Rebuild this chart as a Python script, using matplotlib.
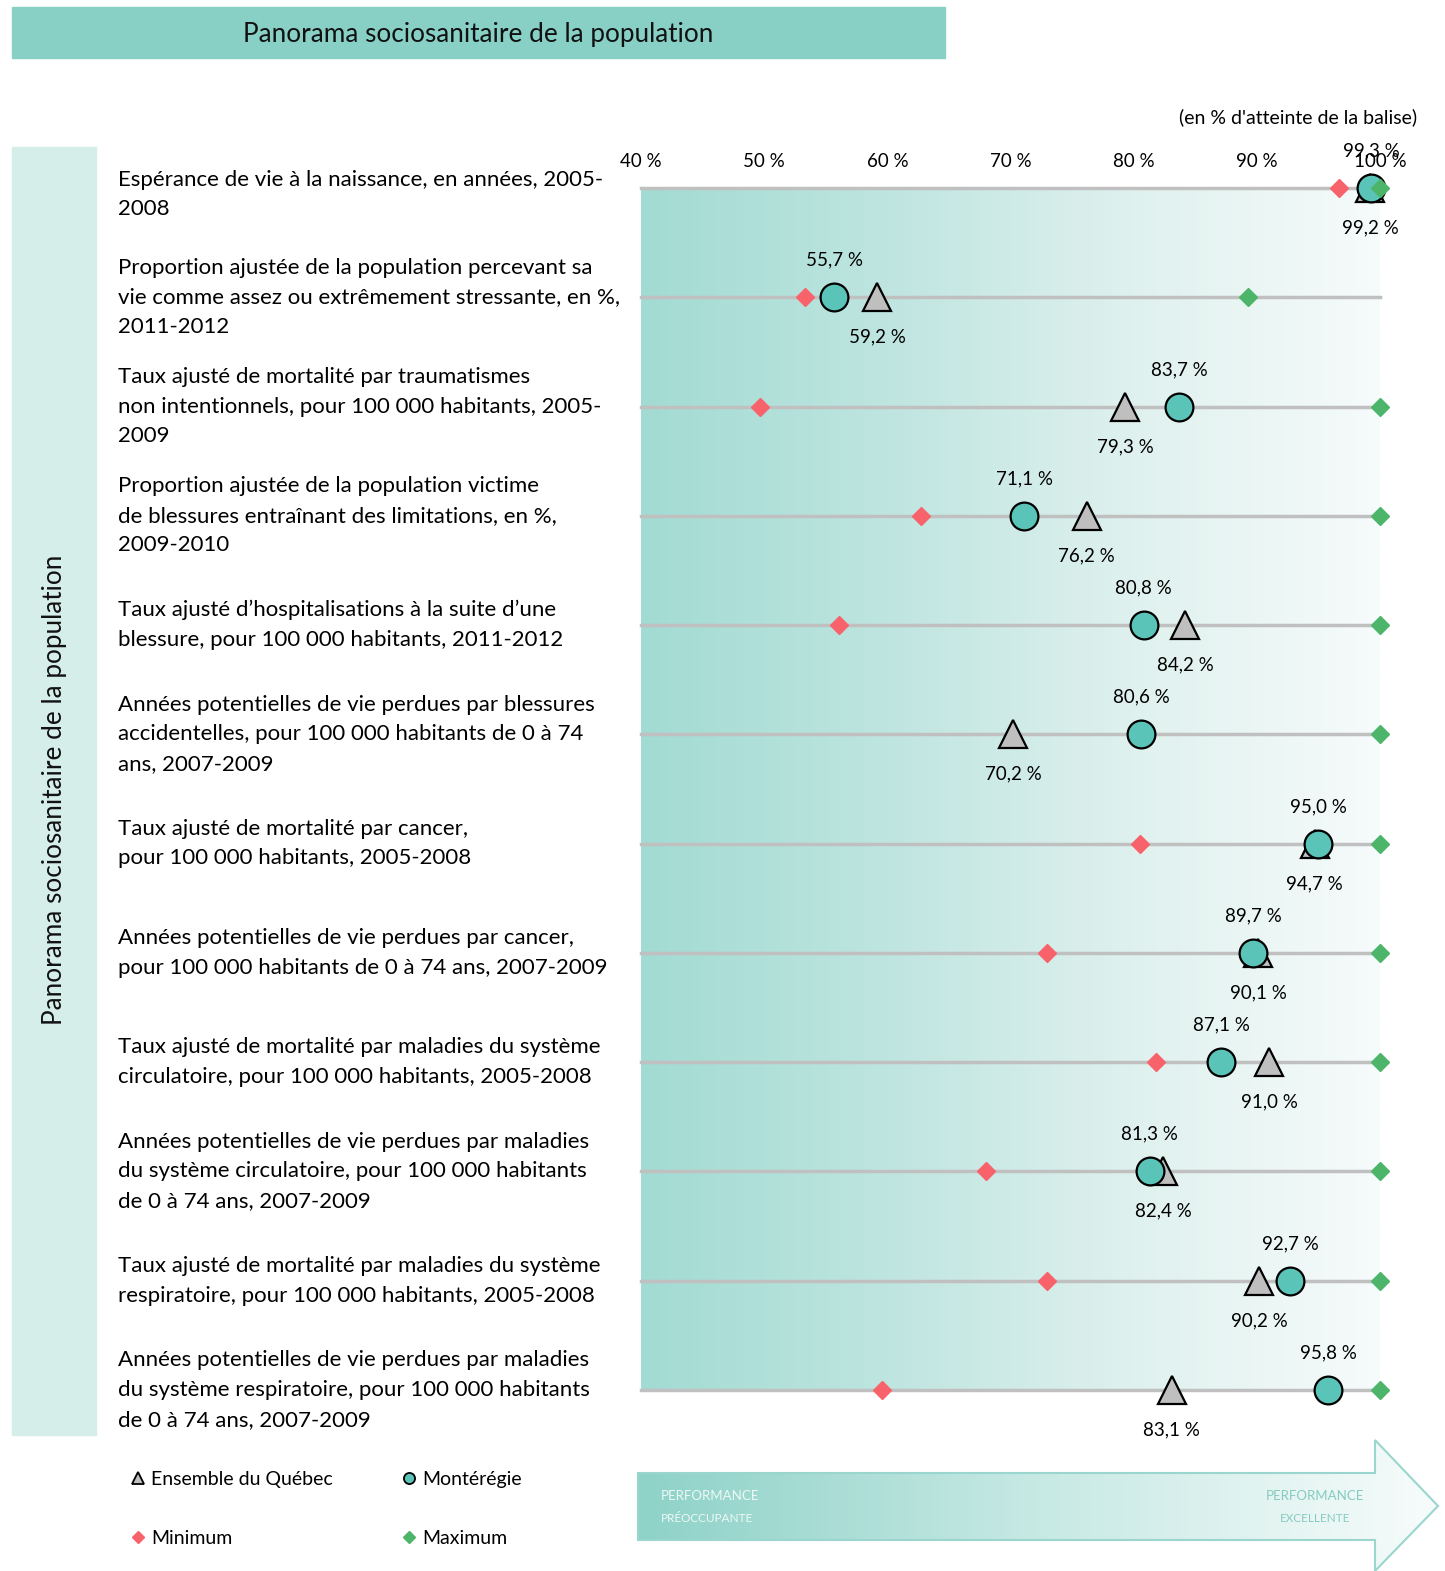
import numpy as np
import matplotlib
matplotlib.use("Agg")
import matplotlib.pyplot as plt
from matplotlib.colors import LinearSegmentedColormap
from matplotlib.patches import Polygon, Rectangle
from matplotlib.lines import Line2D

plt.rcParams['font.family'] = ['Lato', 'DejaVu Sans']

# --- data ---
indicators = [
    "Espérance de vie à la naissance, en années, 2005-\n2008",
    "Proportion ajustée de la population percevant sa\nvie comme assez ou extrêmement stressante, en %,\n2011-2012",
    "Taux ajusté de mortalité par traumatismes\nnon intentionnels, pour 100 000 habitants, 2005-\n2009",
    "Proportion ajustée de la population victime\nde blessures entraînant des limitations, en %,\n2009-2010",
    "Taux ajusté d’hospitalisations à la suite d’une\nblessure, pour 100 000 habitants, 2011-2012",
    "Années potentielles de vie perdues par blessures\naccidentelles, pour 100 000 habitants de 0 à 74\nans, 2007-2009",
    "Taux ajusté de mortalité par cancer,\npour 100 000 habitants, 2005-2008",
    "Années potentielles de vie perdues par cancer,\npour 100 000 habitants de 0 à 74 ans, 2007-2009",
    "Taux ajusté de mortalité par maladies du système\ncirculatoire, pour 100 000 habitants, 2005-2008",
    "Années potentielles de vie perdues par maladies\ndu système circulatoire, pour 100 000 habitants\nde 0 à 74 ans, 2007-2009",
    "Taux ajusté de mortalité par maladies du système\nrespiratoire, pour 100 000 habitants, 2005-2008",
    "Années potentielles de vie perdues par maladies\ndu système respiratoire, pour 100 000 habitants\nde 0 à 74 ans, 2007-2009",
]
monteregie = [99.3, 55.7, 83.7, 71.1, 80.8, 80.6, 95.0, 89.7, 87.1, 81.3, 92.7, 95.8]
quebec = [99.2, 59.2, 79.3, 76.2, 84.2, 70.2, 94.7, 90.1, 91.0, 82.4, 90.2, 83.1]
minimum = [96.7, 53.3, 49.7, 62.7, 56.1, np.nan, 80.5, 73.0, 81.8, 68.0, 73.0, 59.6]
maximum = [100, 89.3, 100, 100, 100, 100, 100, 100, 100, 100, 100, 100]
xticks = [40, 50, 60, 70, 80, 90, 100]

W, H = 1445, 1571
fig = plt.figure(figsize=(W / 100, H / 100), dpi=100)

# overlay axes in pixel coordinates for decorations
deco = fig.add_axes([0, 0, 1, 1])
deco.set_xlim(0, W)
deco.set_ylim(H, 0)
deco.axis('off')

deco.add_patch(Rectangle((12, 7), 933, 51, color='#88d0c6', zorder=1))
deco.text(478, 34, "Panorama sociosanitaire de la population", ha='center', va='center',
          fontsize=18.8, color='#111111')
deco.add_patch(Rectangle((12, 147), 84, 1288, color='#d6eeea', zorder=1))
deco.text(55, 790, "Panorama sociosanitaire de la population", ha='center', va='center',
          rotation=90, fontsize=18.8, color='#111111')
deco.text(1417, 117, "(en % d'atteinte de la balise)", ha='right', va='center', fontsize=14)

# bottom arrow with gradient
arrow_pts = [(638, 1473), (1375, 1473), (1375, 1440), (1438, 1506),
             (1375, 1571), (1375, 1540), (638, 1540)]
grad = LinearSegmentedColormap.from_list('g', ['#8ed2c8', '#c7e9e4', '#f7fcfb'])
poly = Polygon(arrow_pts, closed=True, facecolor='none', edgecolor='#9ad6cd', lw=1.5, zorder=3)
deco.add_patch(poly)
im = deco.imshow(np.linspace(0, 1, 256)[None, :], cmap=grad, aspect='auto',
                 extent=[638, 1438, 1571, 1440], zorder=2)
im.set_clip_path(poly)
deco.text(661, 1496, "PERFORMANCE", fontsize=9.5, color='#eef8f6', va='center', ha='left')
deco.text(661, 1518, "PRÉOCCUPANTE", fontsize=8.5, color='#eef8f6', va='center', ha='left')
deco.text(1315, 1496, "PERFORMANCE", fontsize=9.5, color='#86cbc1', va='center', ha='center')
deco.text(1315, 1518, "EXCELLENTE", fontsize=8.5, color='#86cbc1', va='center', ha='center')

# main plot axes
x0, x1, y0, y1 = 641, 1380, 188, 1390
ax = fig.add_axes([x0 / W, 1 - y1 / H, (x1 - x0) / W, (y1 - y0) / H])
n = len(indicators)
rows = np.arange(n)
ax.set_xlim(40, 100)
ax.set_ylim(n - 1, 0)

bg = LinearSegmentedColormap.from_list('bg', ['#a2dbd3', '#bfe5e0', '#dff1ee', '#f6fbfb'])
ax.imshow(np.linspace(0, 1, 256)[None, :], cmap=bg, aspect='auto',
          extent=[40, 100, n - 1, 0], zorder=0)

for r in rows:
    ax.plot([40, 100], [r, r], color='#c0c0c0', lw=2.5, zorder=1, clip_on=False)

ax.plot(quebec, rows, '^', ms=20, mfc='#bfbfbf', mec='black', mew=1.6, ls='none',
        zorder=3, clip_on=False)
ax.plot(monteregie, rows, 'o', ms=20, mfc='#5bc4b8', mec='black', mew=1.6, ls='none',
        zorder=4, clip_on=False)
ax.plot(minimum, rows, 'D', ms=9, color='#f8636b', ls='none', zorder=5, clip_on=False)
ax.plot(maximum, rows, 'D', ms=9, color='#4db56a', ls='none', zorder=6, clip_on=False)

label_x = (118 - x0) / (x1 - x0)
for r in rows:
    ax.text(monteregie[r], r - 0.34, f"{monteregie[r]:.1f} %".replace('.', ','),
            ha='center', va='center', fontsize=13.5, zorder=7, clip_on=False)
    ax.text(quebec[r], r + 0.365, f"{quebec[r]:.1f} %".replace('.', ','),
            ha='center', va='center', fontsize=13.5, zorder=7, clip_on=False)
    ax.text(label_x, r + (0.06 if r == 0 else 0), indicators[r], transform=ax.get_yaxis_transform(),
            ha='left', va='center', fontsize=16, linespacing=1.6)

ax.set_xticks(xticks)
ax.set_xticklabels([f"{t} %" for t in xticks], fontsize=13.5)
ax.xaxis.tick_top()
ax.tick_params(length=0, pad=13)
ax.set_yticks([])
for s in ax.spines.values():
    s.set_visible(False)

handles = [
    Line2D([], [], marker='^', ls='none', ms=8, mfc='#bfbfbf', mec='black', mew=1.3),
    Line2D([], [], marker='D', ls='none', ms=6, color='#f8636b'),
    Line2D([], [], marker='o', ls='none', ms=8, mfc='#5bc4b8', mec='black', mew=1.3),
    Line2D([], [], marker='D', ls='none', ms=6, color='#4db56a'),
]
labels = ["Ensemble du Québec", "Minimum", "Montérégie", "Maximum"]
fig.legend(handles, labels, ncol=2, loc='upper left', bbox_to_anchor=(122 / W, 1 - 1461 / H),
           frameon=False, fontsize=14, handlelength=0.6, handletextpad=0.4,
           labelspacing=2.15, columnspacing=3.6, borderpad=0)

fig.savefig("out.png", dpi=100)
